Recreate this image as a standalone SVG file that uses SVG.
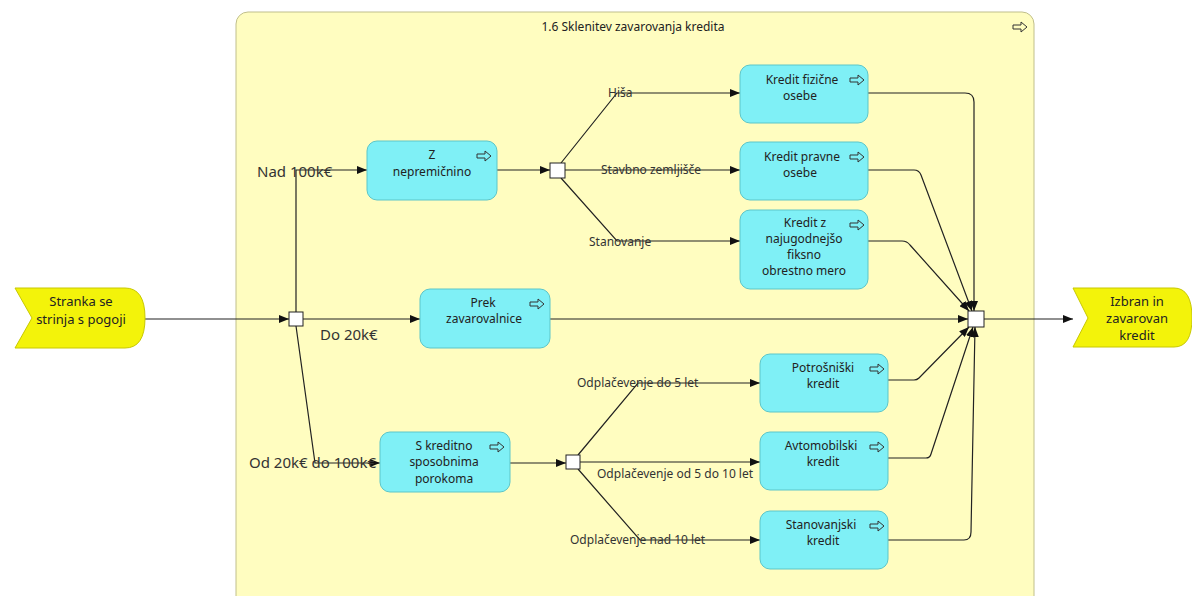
<svg xmlns="http://www.w3.org/2000/svg" width="1192" height="596" viewBox="0 0 1192 596">
<style>
text{font-family:"Noto Sans","Open Sans",sans-serif;fill:#222}
.t{font-size:12px;text-anchor:middle}
.lbl{font-size:12px;fill:#333}
.big{font-size:15px;fill:#333}
.box{fill:#7ff0f6;stroke:#5cc6c9;stroke-width:1}
.ev{fill:#f3f30a;stroke:#c8c800;stroke-width:1}
.gw{fill:#fff;stroke:#222;stroke-width:1}
.c{fill:none;stroke:#222;stroke-width:1.2}
.ca{fill:none;stroke:#222;stroke-width:1.2;marker-end:url(#ah)}
.ic{fill:none;stroke:#333;stroke-width:1}
</style>
<defs>
<marker id="ah" markerUnits="userSpaceOnUse" markerWidth="10" markerHeight="8" refX="10" refY="4" orient="auto"><path d="M0,0 L10,4 L0,8 Z" fill="#111"/></marker>
<path id="ic" d="M0,3 H8 V0 L14,5 L8,10 V7 H0 Z"/>
</defs>
<rect width="1192" height="596" fill="#fff"/>
<g id="container">
<rect x="236" y="12" width="798" height="620" rx="12" fill="#fffdc0" stroke="#c0bf8c" stroke-width="1"/>
<text class="t" x="633" y="31">1.6 Sklenitev zavarovanja kredita</text>
<use href="#ic" class="ic" x="1013" y="22"/>
</g>
<g id="connectors">
<path class="ca" d="M145,319 H289"/>
<path class="ca" d="M296,312 V170 H367"/>
<path class="ca" d="M303,319 H420"/>
<path class="ca" d="M296,326 L315,463 H380"/>
<path class="ca" d="M497,170 H550"/>
<path class="ca" d="M561,163 L617,93 H740"/>
<path class="ca" d="M565,170 H740"/>
<path class="ca" d="M561,178 L617,241 H740"/>
<path class="ca" d="M550,319 H968"/>
<path class="ca" d="M510,463 H566"/>
<path class="ca" d="M578,455 L638,383 H760"/>
<path class="ca" d="M580,462 H760"/>
<path class="ca" d="M578,469 L640,540 H760"/>
<path class="ca" d="M868,93 H965 Q974,93 974,102 V311"/>
<path class="ca" d="M868,170 H914 Q919,170 921,175 L972,311"/>
<path class="ca" d="M868,241 H902 Q907,241 910,245 L969,311"/>
<path class="ca" d="M888,380 H914 Q917,380 919,378 L969,327"/>
<path class="ca" d="M888,458 H926 Q930,458 931,454 L973,327"/>
<path class="ca" d="M888,540 H964 Q971,540 971,532 L975,327"/>
<path class="ca" d="M984,319 H1073"/>
</g>
<g id="labels">
<text class="big" x="257" y="177">Nad 100k€</text>
<text class="big" x="320" y="340">Do 20k€</text>
<text class="big" x="249" y="468">Od 20k€ do 100k€</text>
<text class="lbl" x="608" y="97">Hiša</text>
<text class="lbl" x="601" y="174">Stavbno zemljišče</text>
<text class="lbl" x="589" y="246">Stanovanje</text>
<text class="lbl" x="577" y="387">Odplačevenje do 5 let</text>
<text class="lbl" x="597" y="478">Odplačevenje od 5 do 10 let</text>
<text class="lbl" x="570" y="544">Odplačevenje nad 10 let</text>
</g>
<g id="start">
<path class="ev" d="M15,288 H125 Q145,288 145,318 Q145,348 125,348 H15 L32,318 Z"/>
<text class="t" x="81" y="306" style="font-size:13px">Stranka se</text>
<text class="t" x="81" y="324" style="font-size:13px">strinja s pogoji</text>
</g>
<g id="end">
<path class="ev" d="M1073,288 H1174 Q1192,288 1192,318 Q1192,347 1174,347 H1073 L1088,318 Z"/>
<text class="t" x="1137" y="306" style="font-size:13px">Izbran in</text>
<text class="t" x="1137" y="323" style="font-size:13px">zavarovan</text>
<text class="t" x="1137" y="340" style="font-size:13px">kredit</text>
</g>
<g id="g1"><rect class="gw" x="289" y="312" width="14" height="14"/></g>
<g id="g2"><rect class="gw" x="550" y="163" width="15" height="15"/></g>
<g id="g3"><rect class="gw" x="566" y="455" width="14" height="14"/></g>
<g id="merge"><rect class="gw" x="968" y="311" width="16" height="16"/></g>
<g id="n_nepremicnino">
<rect class="box" x="367" y="141" width="130" height="59" rx="10"/>
<use href="#ic" class="ic" x="477" y="151"/>
<text class="t" x="432" y="159">Z</text>
<text class="t" x="432" y="176">nepremičnino</text>
</g>
<g id="n_fizicne">
<rect class="box" x="740" y="65" width="128" height="58" rx="10"/>
<use href="#ic" class="ic" x="850" y="75"/>
<text class="t" x="802" y="84">Kredit fizične</text>
<text class="t" x="800" y="100">osebe</text>
</g>
<g id="n_pravne">
<rect class="box" x="740" y="142" width="128" height="58" rx="10"/>
<use href="#ic" class="ic" x="850" y="152"/>
<text class="t" x="802" y="161">Kredit pravne</text>
<text class="t" x="800" y="177">osebe</text>
</g>
<g id="n_fiksno">
<rect class="box" x="740" y="210" width="128" height="79" rx="10"/>
<use href="#ic" class="ic" x="850" y="220"/>
<text class="t" x="805" y="227">Kredit z</text>
<text class="t" x="804" y="243">najugodnejšo</text>
<text class="t" x="804" y="259">fiksno</text>
<text class="t" x="804" y="275">obrestno mero</text>
</g>
<g id="n_zavarovalnice">
<rect class="box" x="420" y="289" width="130" height="59" rx="10"/>
<use href="#ic" class="ic" x="530" y="299"/>
<text class="t" x="483" y="307">Prek</text>
<text class="t" x="484" y="323">zavarovalnice</text>
</g>
<g id="n_porokoma">
<rect class="box" x="380" y="432" width="130" height="60" rx="10"/>
<use href="#ic" class="ic" x="490" y="442"/>
<text class="t" x="444" y="450">S kreditno</text>
<text class="t" x="444" y="466">sposobnima</text>
<text class="t" x="444" y="483">porokoma</text>
</g>
<g id="n_potrosniski">
<rect class="box" x="760" y="354" width="128" height="58" rx="10"/>
<use href="#ic" class="ic" x="870" y="364"/>
<text class="t" x="823" y="372">Potrošniški</text>
<text class="t" x="823" y="388">kredit</text>
</g>
<g id="n_avtomobilski">
<rect class="box" x="760" y="432" width="128" height="58" rx="10"/>
<use href="#ic" class="ic" x="870" y="442"/>
<text class="t" x="821" y="450">Avtomobilski</text>
<text class="t" x="823" y="466">kredit</text>
</g>
<g id="n_stanovanjski">
<rect class="box" x="760" y="511" width="128" height="58" rx="10"/>
<use href="#ic" class="ic" x="870" y="521"/>
<text class="t" x="821" y="529">Stanovanjski</text>
<text class="t" x="823" y="545">kredit</text>
</g>
</svg>
